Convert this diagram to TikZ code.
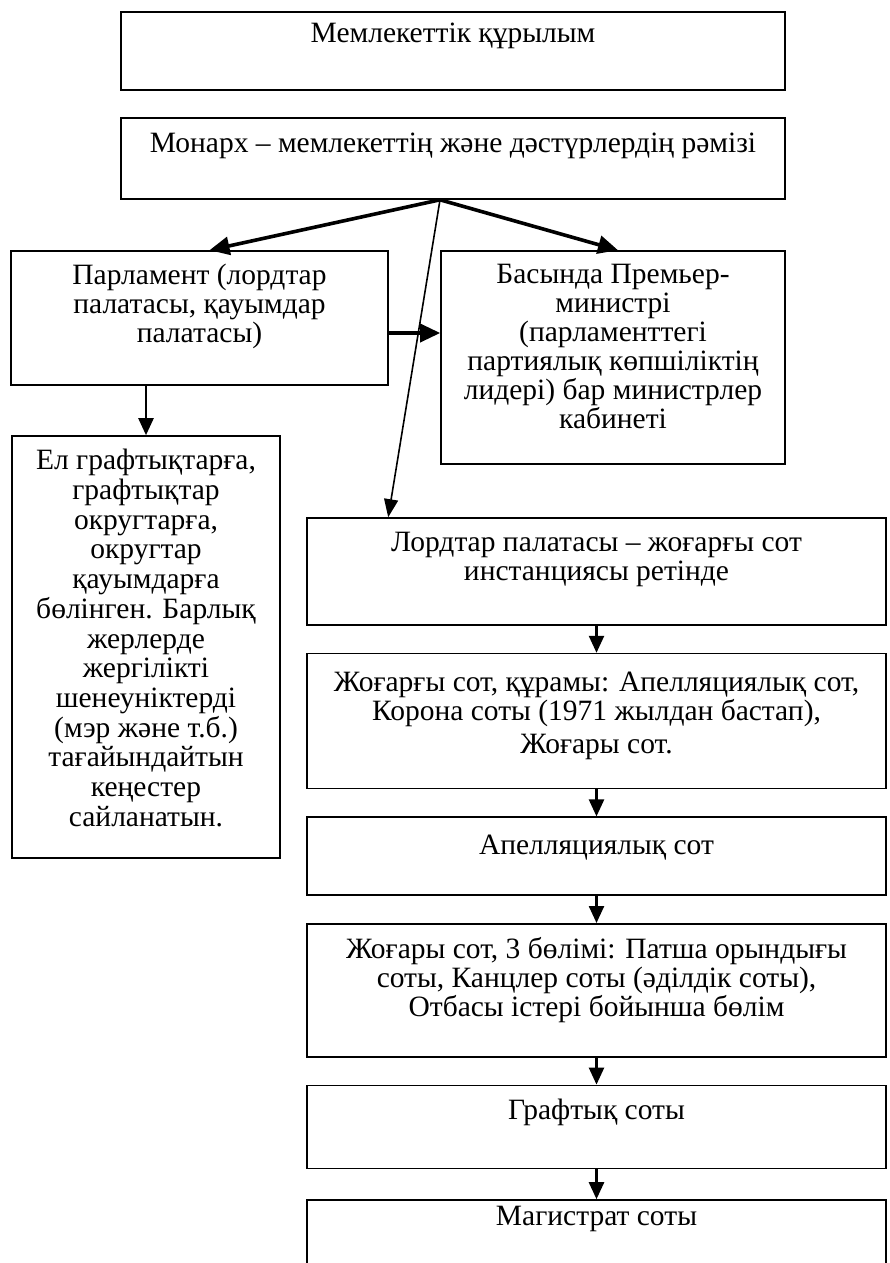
\documentclass[tikz,border=0pt]{standalone}
\usepackage{fontspec}
\setmainfont{Liberation Serif}
\usetikzlibrary{arrows.meta,positioning}

\begin{document}
\begin{tikzpicture}[x=1pt,y=-1pt,node distance=27pt,
  box/.style={draw,line width=1.6pt,inner sep=0pt},
  txt/.style={anchor=north,align=center,inner sep=0pt,font=\fontsize{29.5pt}{29pt}\selectfont},
  down/.style={line width=2.4pt,-{Triangle[length=17pt,width=15pt]}},
  fat/.style={line width=3.6pt,-{Triangle[length=20pt,width=18pt]}},
  thin/.style={line width=1.6pt,-{Triangle[length=18pt,width=14pt]}}]
  \path[fill=white] (0,0) rectangle (889,1263);
  \useasboundingbox (0,0) rectangle (889,1263);

  % top of the scheme
  \node[box,minimum width=664pt,minimum height=78pt]  (state)   at (453,51)    {};
  \node[box,minimum width=664pt,minimum height=81pt]  (monarch) at (453,158.5) {};
  \node[box,minimum width=377pt,minimum height=134pt] (parl)    at (199.5,318) {};
  \node[box,minimum width=344pt,minimum height=213pt] (cab)     at (613,357.5) {};
  \node[box,minimum width=268pt,minimum height=422pt] (local)   at (146,647)   {};

  % courts
  \node[box,minimum width=579pt,minimum height=107pt] (lords)   at (596.5,571.5) {};
  \node[box,minimum width=579pt,minimum height=135pt,below=of lords]  (high)   {};
  \node[box,minimum width=579pt,minimum height=78pt,below=of high]    (appeal) {};
  \node[box,minimum width=579pt,minimum height=133pt,below=of appeal] (hc)     {};
  \node[box,minimum width=579pt,minimum height=83pt,below=of hc]      (county) {};
  \node[box,minimum width=579pt,minimum height=70pt,below=30pt of county] (magis) {};

  \node[txt] (stateT)   at ([yshift=-12pt]state.north)   {Мемлекеттік құрылым};
  \node[txt] (monarchT) at ([yshift=-16pt]monarch.north) {Монарх – мемлекеттің және дәстүрлердің рәмізі};
  \node[txt] (parlT)    at ([yshift=-14pt]parl.north)    {Парламент (лордтар\\палатасы, қауымдар\\палатасы)};
  \node[txt] (cabT)     at ([yshift=-14pt]cab.north)     {Басында Премьер-\\министрі\\(парламенттегі\\партиялық көпшіліктің\\лидері) бар министрлер\\кабинеті};
  \node[txt,font=\fontsize{29.5pt}{29.7pt}\selectfont] (localT) at ([yshift=-14pt]local.north)
    {Ел графтықтарға,\\графтықтар\\округтарға,\\округтар\\қауымдарға\\бөлінген. Барлық\\жерлерде\\жергілікті\\шенеуніктерді\\(мэр және т.б.)\\тағайындайтын\\кеңестер\\сайланатын.};
  \node[txt] (lordsT)   at ([yshift=-15pt]lords.north)   {Лордтар палатасы – жоғарғы сот\\инстанциясы ретінде};
  \node[txt] (highT)    at ([yshift=-19pt]high.north)    {Жоғарғы сот, құрамы: Апелляциялық сот,\\Корона соты (1971 жылдан бастап),\\[4pt]Жоғары сот.};
  \node[txt] (appealT)  at ([yshift=-18pt]appeal.north)  {Апелляциялық сот};
  \node[txt] (hcT)      at ([yshift=-14pt]hc.north)      {Жоғары сот, 3 бөлімі: Патша орындығы\\соты, Канцлер соты (әділдік соты),\\Отбасы істері бойынша бөлім};
  \node[txt] (countyT)  at ([yshift=-14pt]county.north)  {Графтық соты};
  \node[txt] (magisT)   at ([yshift=-7pt]magis.north)    {Магистрат соты};

  \coordinate (fork) at ([xshift=-13pt]monarch.south);
  \draw[fat]  (fork) -- ([xshift=10pt]parl.north);
  \draw[fat]  (fork) -- ([xshift=5pt]cab.north);
  \draw[thin] (fork) -- ([xshift=82pt]lords.north west);
  \draw[fat]  ([yshift=-15pt]parl.east) -- ([yshift=-15pt]parl.east -| cab.west);
  \draw[down] (parl.south -| local.north) -- (local.north);

  \draw[down] (lords)  -- (high);
  \draw[down] (high)   -- (appeal);
  \draw[down] (appeal) -- (hc);
  \draw[down] (hc)     -- (county);
  \draw[down] (county) -- (magis);
\end{tikzpicture}
\end{document}
